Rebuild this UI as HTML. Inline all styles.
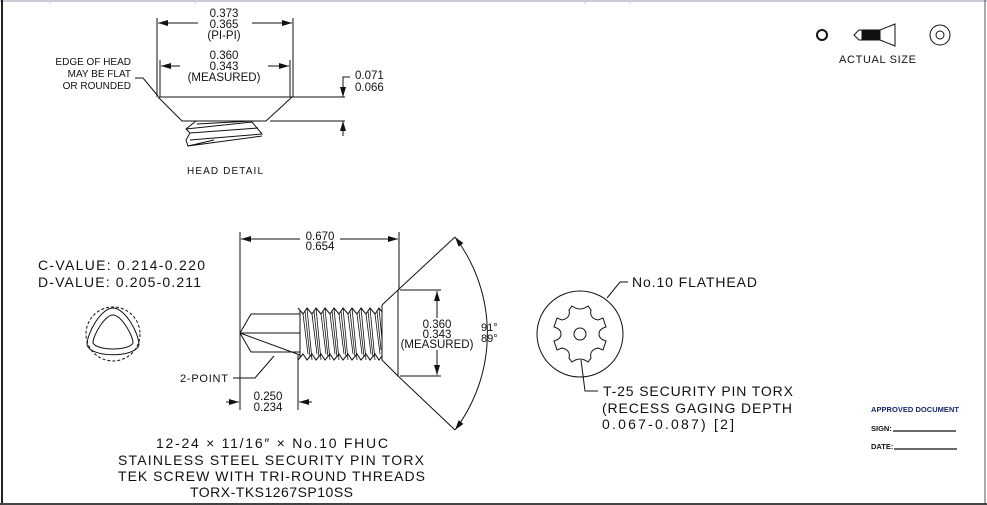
<!DOCTYPE html>
<html><head><meta charset="utf-8"><style>
html,body{margin:0;padding:0;background:#fff;}
svg{display:block;}
text{font-family:"Liberation Sans",sans-serif;fill:#111;}
</style></head><body>
<svg width="987" height="505" viewBox="0 0 987 505" xmlns="http://www.w3.org/2000/svg">
<defs>
<marker id="a" viewBox="0 0 10 6" refX="10" refY="3" markerWidth="10" markerHeight="6" orient="auto-start-reverse" markerUnits="userSpaceOnUse"><path d="M0,0 L10,3 L0,6 z" fill="#111"/></marker>
</defs>
<rect width="987" height="505" fill="#fff"/>
<line x1="0" y1="1" x2="987" y2="1" stroke="#c8ccd4" stroke-width="2"/>
<line x1="50" y1="0" x2="50" y2="4" stroke="#c8ccd4"/><line x1="195" y1="0" x2="195" y2="4" stroke="#c8ccd4"/><line x1="585" y1="0" x2="585" y2="4" stroke="#c8ccd4"/><line x1="630" y1="0" x2="630" y2="4" stroke="#c8ccd4"/>
<line x1="2" y1="0" x2="2" y2="505" stroke="#222" stroke-width="2"/>
<line x1="985" y1="0" x2="985" y2="505" stroke="#555" stroke-width="1"/>
<line x1="0" y1="504" x2="987" y2="504" stroke="#444" stroke-width="2"/>

<g stroke="#111" stroke-width="1" fill="none">
<line x1="157" y1="18" x2="157" y2="97"/><line x1="293" y1="18" x2="293" y2="97"/>
<line x1="160" y1="60" x2="160" y2="97"/><line x1="290" y1="60" x2="290" y2="97"/>
<line x1="198" y1="23" x2="158" y2="23" marker-end="url(#a)"/><line x1="252" y1="23" x2="292" y2="23" marker-end="url(#a)"/>
<line x1="180" y1="66" x2="161" y2="66" marker-end="url(#a)"/><line x1="268" y1="66" x2="289" y2="66" marker-end="url(#a)"/>
<path d="M158,97 L293,97 M158,97 L182,121 L266,121 L292,97"/>
<line x1="293" y1="97" x2="345" y2="97"/><line x1="270" y1="121" x2="345" y2="121"/>
<line x1="343" y1="84" x2="343" y2="97" marker-end="url(#a)"/><line x1="343" y1="136" x2="343" y2="121" marker-end="url(#a)"/>
<path d="M343,84 L343,77 L350,77"/>
<path d="M135,78 L143,78 L158,96"/>
<path d="M196,121 L186,129 L190,133 L186,140 L188,146 L214,140 M186,129 L252,122 L262,134 L190,140 M190,133 L258,128 M188,146 L262,136 M197,124 L252,121"/>
<line x1="240" y1="232" x2="240" y2="410"/><line x1="399" y1="232" x2="399" y2="290"/>
<line x1="300" y1="239" x2="241" y2="239" marker-end="url(#a)"/><line x1="340" y1="239" x2="398" y2="239" marker-end="url(#a)"/>
<path d="M240,333 L251,314 L300,314 M240,333 L251,352 L300,352 M240,333 L300,333 M240,333 L300,355"/>
<line x1="298" y1="355" x2="298" y2="410"/>
<line x1="226" y1="402" x2="239" y2="402" marker-end="url(#a)"/><line x1="312" y1="402" x2="299" y2="402" marker-end="url(#a)"/>
<path d="M233,378 L255,378 L274,356"/>
<path d="M298,308 L303,314 L307,308 L312,314 L316,308 L321,314 L325,308 L330,314 L334,308 L339,314 L343,308 L348,314 L352,308 L357,314 L361,308 L366,314 L370,308 L375,314 L379,308 L382,312"/>
<path d="M298,360 L303,354 L307,360 L312,354 L316,360 L321,354 L325,360 L330,354 L334,360 L339,354 L343,360 L348,354 L352,360 L357,354 L361,360 L366,354 L370,360 L375,354 L379,360 L382,356"/>
<line x1="300" y1="310" x2="300" y2="358"/><line x1="382" y1="305" x2="382" y2="360"/>
<g stroke-width="0.8">
<path d="M303,314 L308,354 M307,308 L312,360 M312,314 L317,354 M316,308 L321,360 M321,314 L326,354 M325,308 L330,360 M330,314 L335,354 M334,308 L339,360 M339,314 L344,354 M343,308 L348,360 M348,314 L353,354 M352,308 L357,360 M357,314 L362,354 M361,308 L366,360 M366,314 L371,354 M370,308 L375,360 M375,314 L380,354 M379,308 L382,340"/>
<path d="M305,311 L310,357 M314,311 L319,357 M323,311 L328,357 M332,311 L337,357 M341,311 L346,357 M350,311 L355,357 M359,311 L364,357 M368,311 L373,357 M377,311 L381,350"/>
</g>
<path d="M382,305 L398,290 L398,376 L382,360"/>
<line x1="398" y1="290" x2="455" y2="237"/><line x1="398" y1="376" x2="455" y2="430"/>
<path d="M455,237 A160,160 0 0 1 455,430" marker-start="url(#a)" marker-end="url(#a)"/>
<line x1="400" y1="290" x2="441" y2="290"/><line x1="400" y1="376" x2="441" y2="376"/>
<line x1="437" y1="318" x2="437" y2="291" marker-end="url(#a)"/><line x1="437" y1="350" x2="437" y2="375" marker-end="url(#a)"/>
<circle cx="113" cy="334" r="27" stroke-dasharray="3,2"/>
<path d="M113,308 C125,308 139,333 139,345 C135,358 91,358 87,345 C87,333 101,308 113,308 Z"/>
<path d="M113,315 C121,315 133,335 133,343 C129,351 97,351 93,343 C93,335 105,315 113,315 Z"/>
<circle cx="580" cy="334" r="43"/>
<circle cx="580" cy="334" r="6"/>
<path d="M572,306 Q580,312 588,306 L591,310 Q589,318 598,320 L603,318 L606,327 Q599,329 599,334 Q599,339 606,341 L603,350 L598,348 Q589,350 591,358 L588,362 Q580,356 572,362 L569,358 Q571,350 562,348 L557,350 L554,341 Q561,339 561,334 Q561,329 554,327 L557,318 L562,320 Q571,318 569,310 Z"/>
<path d="M607,298 L620,282 L628,282"/>
<path d="M581,360 L585,391 L598,391"/>
<circle cx="822" cy="35" r="5" stroke-width="2"/>
<path d="M854,35 L859,30 L862,30 L862,40 L859,40 Z"/>
<rect x="862" y="30" width="18" height="10" fill="#111"/>
<path d="M880,30 L895,24 L895,46 L880,40"/>
<circle cx="940" cy="35" r="10"/>
<circle cx="940" cy="35" r="4"/>
</g>
<g font-size="11.5" text-anchor="middle">
<text x="224" y="17">0.373</text><text x="224" y="28">0.365</text><text x="224" y="39">(PI-PI)</text>
<text x="224" y="59">0.360</text><text x="224" y="70">0.343</text><text x="224" y="81">(MEASURED)</text>
</g>
<g font-size="10" text-anchor="end">
<text x="131" y="65">EDGE OF HEAD</text><text x="131" y="77">MAY BE FLAT</text><text x="131" y="89">OR ROUNDED</text>
</g>
<text x="355" y="79" font-size="11.5">0.071</text><text x="355" y="91" font-size="11.5">0.066</text>
<text x="187" y="174" font-size="10" textLength="76">HEAD DETAIL</text>
<g font-size="11.5" text-anchor="middle">
<text x="320" y="240">0.670</text><text x="320" y="250">0.654</text>
<text x="437" y="328">0.360</text><text x="437" y="338">0.343</text><text x="437" y="348">(MEASURED)</text>
<text x="268" y="400">0.250</text><text x="268" y="411">0.234</text>
</g>
<text x="481" y="331" font-size="11">91°</text><text x="481" y="342" font-size="11">89°</text>
<text x="180" y="382" font-size="11" textLength="48">2-POINT</text>
<text x="38" y="270" font-size="14" textLength="167">C-VALUE: 0.214-0.220</text>
<text x="38" y="287" font-size="14" textLength="163">D-VALUE: 0.205-0.211</text>
<g font-size="14">
<text x="156" y="448" textLength="232">12-24 × 11/16″ × No.10 FHUC</text>
<text x="118" y="465" textLength="306">STAINLESS STEEL SECURITY PIN TORX</text>
<text x="118" y="481" textLength="307">TEK SCREW WITH TRI-ROUND THREADS</text>
<text x="190" y="497" textLength="163">TORX-TKS1267SP10SS</text>
<text x="632" y="287" textLength="125">No.10 FLATHEAD</text>
<text x="603" y="396" textLength="190">T-25 SECURITY PIN TORX</text>
<text x="602" y="413" textLength="190">(RECESS GAGING DEPTH</text>
<text x="602" y="429" textLength="132">0.067-0.087) [2]</text>
</g>
<text x="839" y="63" font-size="11" textLength="77">ACTUAL SIZE</text>
<text x="871" y="412" font-size="7.5" font-weight="bold" style="fill:#1a2a6c" textLength="88">APPROVED DOCUMENT</text>
<text x="871" y="431" font-size="7.5" font-weight="bold">SIGN:</text>
<text x="871" y="449" font-size="7.5" font-weight="bold">DATE:</text>
<line x1="893" y1="431" x2="956" y2="431" stroke="#111" stroke-width="1.2"/>
<line x1="894" y1="449" x2="957" y2="449" stroke="#111" stroke-width="1.2"/>
</svg>
</body></html>
